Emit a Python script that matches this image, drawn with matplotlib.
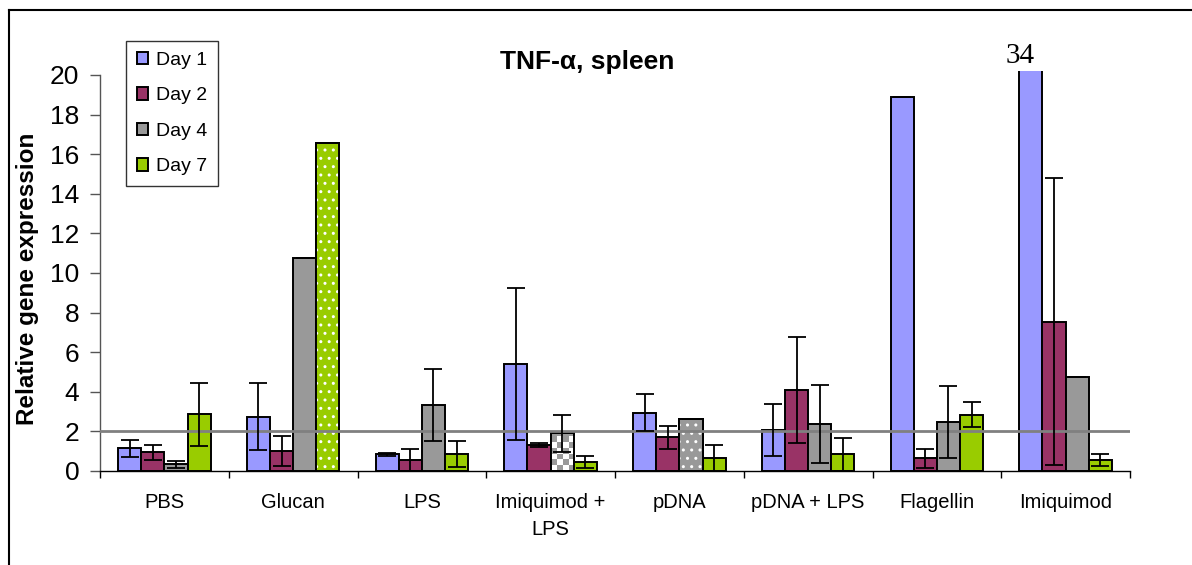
import numpy as np
import matplotlib
matplotlib.use("Agg")
from matplotlib import pyplot as plt
from matplotlib.lines import Line2D

plt.rcParams['font.family'] = ['Liberation Sans', 'DejaVu Sans']

#--- data ---#
groups = ['PBS', 'Glucan', 'LPS', 'Imiquimod +\nLPS', 'pDNA', 'pDNA + LPS', 'Flagellin', 'Imiquimod']
days = ['Day 1', 'Day 2', 'Day 4', 'Day 7']

day1 = [1.15, 2.74, 0.85, 5.40, 2.95, 2.09, 18.87, 34.0]
day2 = [0.94, 1.03, 0.55, 1.31, 1.70, 4.09, 0.64, 7.54]
day4 = [0.35, 10.77, 3.33, 1.90, 2.64, 2.37, 2.46, 4.75]
day7 = [2.86, 16.58, 0.86, 0.45, 0.64, 0.84, 2.85, 0.56]

err1 = [0.44, 1.70, 0.08, 3.82, 0.94, 1.31, 0.0, 0.0]
err2 = [0.37, 0.76, 0.56, 0.08, 0.57, 2.66, 0.49, 7.24]
err4 = [0.18, 0.0, 1.82, 0.95, 0.0, 1.97, 1.82, 0.0]
err7 = [1.60, 0.0, 0.64, 0.30, 0.67, 0.84, 0.64, 0.30]

reference_level = 2

#--- style ---#
colors = ['#9999FF', '#993366', '#999999', '#99CC00']
patterns = {(1, 3): 'dots', (4, 2): 'dots', (3, 2): 'checker'}
ytop = 20.2
bar_w = 0.18

fig = plt.figure(figsize=(11.92, 5.65), dpi=100)
ax = fig.add_axes([100/1192, 1-471/565, 1030/1192, 400/565])

values = [day1, day2, day4, day7]
errors = [err1, err2, err4, err7]
x = np.arange(len(groups))

containers = []
for j, (vals, errs) in enumerate(zip(values, errors)):
    pos = x + (j - 1.5) * bar_w
    bars = ax.bar(pos, vals, bar_w, color=colors[j], edgecolor='black',
                  linewidth=1.4, label=days[j], zorder=2)
    containers.append(bars)
    ax.errorbar(pos, vals, yerr=errs, fmt='none', ecolor='black',
                elinewidth=1.3, capsize=6.5, capthick=1.3, zorder=5)
    # values off the scale get their number written above
    for p, v in zip(pos, vals):
        if v > ytop:
            ax.annotate('%g' % v, (p, ytop), xytext=(-8, 6), textcoords='offset points',
                        ha='center', va='baseline', fontsize=21,
                        family='Liberation Serif', annotation_clip=False)

ax.set_xlim(-0.5, len(groups) - 0.5)
ax.set_ylim(0, ytop)
fig.canvas.draw()

# patterned bars
for (g, j), kind in patterns.items():
    b = containers[j].patches[g]
    x0, y0 = b.get_x(), b.get_y()
    w, h = b.get_width(), b.get_height()
    if kind == 'dots':
        ax.bar(x0 + w/2, h, w, bottom=y0, color=colors[j], edgecolor='white',
               hatch='..', linewidth=0, zorder=2.1)
    else:
        (px0, py0), (px1, py1) = ax.transData.transform([(x0, y0), (x0 + w, y0 + h)])
        ncol = 4
        nrow = int(round(ncol * (py1 - py0) / (px1 - px0)))
        cells = (np.add.outer(np.arange(nrow), np.arange(ncol)) % 2).astype(float)
        ax.imshow(cells, cmap=matplotlib.colors.ListedColormap(['white', '#999999']),
                  extent=(x0, x0 + w, y0, y0 + nrow * (px1 - px0) / ncol / (py1 - py0) * h),
                  origin='lower', aspect='auto', interpolation='nearest', zorder=2.1,
                  clip_path=b, clip_on=True)
    ax.bar(x0 + w/2, h, w, bottom=y0, color='none', edgecolor='black',
           linewidth=1.4, zorder=2.2)

ax.set_xlim(-0.5, len(groups) - 0.5)
ax.set_ylim(0, ytop)

ax.axhline(reference_level, color='#808080', linewidth=2, zorder=4)

#--- axes ---#
for s in ['top', 'right']:
    ax.spines[s].set_visible(False)
ax.spines['left'].set_bounds(0, 20)
ax.spines['left'].set_color('#555555')
ax.spines['bottom'].set_color('black')
ax.spines['left'].set_linewidth(1)
ax.spines['bottom'].set_linewidth(1)

ax.set_yticks(np.arange(0, 21, 2))
ax.tick_params(axis='y', labelsize=19, length=7, width=1, color='#555555', pad=8)
ax.set_xticks(x, groups, fontsize=14.5, linespacing=1.5)
ax.tick_params(axis='x', length=0, pad=16)
ax.set_xticks(np.arange(-0.5, len(groups)), minor=True)
ax.tick_params(axis='x', which='minor', length=5, width=1, color='black')

fig.text(28/1192, 1-279/565, 'Relative gene expression', rotation=90,
         ha='center', va='center', fontsize=17.5, fontweight='bold')
fig.text(587/1192, 1-69/565, 'TNF-\u03b1, spleen', ha='center', va='baseline',
         fontsize=19, fontweight='bold')

leg = ax.legend(handles=containers, loc='upper left', bbox_to_anchor=(126/1192, 1-41/565),
                bbox_transform=fig.transFigure, fontsize=14, frameon=True, fancybox=False,
                handlelength=0.6, handleheight=0.6, handletextpad=0.4, labelspacing=0.95,
                borderpad=0.55, borderaxespad=0)
leg.get_frame().set_edgecolor('black')
leg.get_frame().set_linewidth(1)

# outer chart frame
fig.add_artist(Line2D([9/1192, 1], [1-10/565, 1-10/565], color='black', linewidth=1.5))
fig.add_artist(Line2D([9/1192, 9/1192], [0, 1-10/565], color='black', linewidth=1.5))

fig.savefig('out.png', dpi=100)
